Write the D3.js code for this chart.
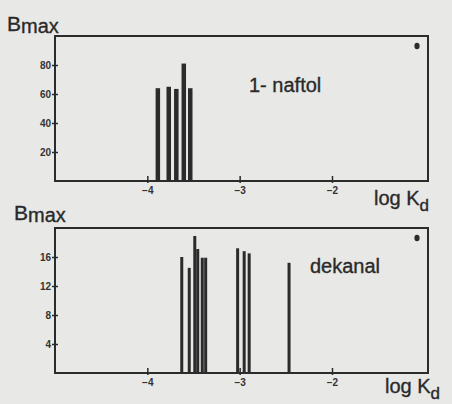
<!DOCTYPE html>
<html>
<head>
<meta charset="utf-8">
<script src="https://cdn.jsdelivr.net/npm/d3@7"></script>
<style>
  body { margin: 0; background: #e8e8e6; }
  svg { display: block; }
  .tick text { font-family: "Liberation Sans", Arial, sans-serif; font-weight: bold; font-size: 10px; fill: #333; }
  .lbl { font-family: "Liberation Sans", Arial, sans-serif; fill: #2a2a2a; stroke: #2a2a2a; stroke-width: 0.35; }
</style>
</head>
<body>
<div id="chart"></div>
<script>
// 1-naftol panel
const naftolLogK = [-3.886, -3.768, -3.686, -3.605, -3.535];
const naftolBmax = [64, 65, 63.5, 81, 64];
// dekanal panel
const dekanalLogK = [-3.627, -3.546, -3.486, -3.454, -3.405, -3.368, -3.022, -2.951, -2.897, -2.465];
const dekanalBmax = [16.0, 14.5, 18.9, 17.1, 15.9, 15.9, 17.2, 16.8, 16.5, 15.2];

const xTicks = [-4, -3, -2];
const naftolYTicks = [20, 40, 60, 80];
const dekanalYTicks = [4, 8, 12, 16];

const W = 452, H = 404;
const ink = "#2b2b2b";

const svg = d3.select("#chart").append("svg")
    .attr("width", W).attr("height", H);

const x = d3.scaleLinear().domain([-5, -0.96]).range([55, 428]);

function panel(top, bottom, yMax, xs, ys, yTicks, barW, name, nameX, nameY, ylabY, ylabX, logY) {
    const y = d3.scaleLinear().domain([0, yMax]).range([bottom, top]);
    const g = svg.append("g");

    // bars
    g.selectAll("rect.bar")
        .data(xs.map((v, i) => ({k: v, b: ys[i]})))
        .enter().append("rect")
        .attr("class", "bar")
        .attr("x", d => x(d.k) - barW / 2)
        .attr("y", d => y(d.b))
        .attr("width", barW)
        .attr("height", d => bottom - y(d.b))
        .attr("fill", ink);

    // frame
    g.append("rect")
        .attr("x", x.range()[0]).attr("y", top)
        .attr("width", x.range()[1] - x.range()[0])
        .attr("height", bottom - top)
        .attr("fill", "none").attr("stroke", ink).attr("stroke-width", 2);

    // axes
    const xa = g.append("g")
        .attr("transform", "translate(0," + bottom + ")")
        .call(d3.axisBottom(x).tickValues(xTicks).tickSize(0).tickPadding(6)
            .tickFormat(d => "\u2212" + Math.abs(d)));
    xa.select(".domain").remove();
    xa.selectAll(".tick").append("line")
        .attr("y1", -5).attr("y2", 2).attr("stroke", ink).attr("stroke-width", 1.5);

    const ya = g.append("g")
        .attr("transform", "translate(" + x.range()[0] + ",0)")
        .call(d3.axisLeft(y).tickValues(yTicks).tickSize(0).tickPadding(4));
    ya.select(".domain").remove();
    ya.selectAll(".tick").append("line")
        .attr("x1", -3).attr("x2", 3).attr("stroke", ink).attr("stroke-width", 1.5);

    // corner mark
    g.append("ellipse")
        .attr("cx", 417).attr("cy", top + 10)
        .attr("rx", 2.6).attr("ry", 3.2).attr("fill", ink);

    // panel name
    g.append("text").attr("class", "lbl")
        .attr("x", nameX).attr("y", nameY)
        .attr("font-size", 20).text(name);

    // y label Bmax
    const bl = g.append("text").attr("class", "lbl")
        .attr("x", ylabX).attr("y", ylabY).attr("font-size", 21);
    bl.append("tspan").text("B");
    bl.append("tspan").attr("dy", 2).attr("font-size", 20).text("max");

    // x label log Kd
    const xl = g.append("text").attr("class", "lbl")
        .attr("x", logY[0]).attr("y", logY[1]).attr("font-size", 20);
    xl.append("tspan").text("log K");
    xl.append("tspan").attr("dy", 6).attr("font-size", 17).text("d");
}

panel(36, 181, 100, naftolLogK, naftolBmax, naftolYTicks, 4.5,
      "1- naftol", 249, 92, 31, 7, [374, 205]);
panel(228, 373, 20, dekanalLogK, dekanalBmax, dekanalYTicks, 3,
      "dekanal", 310, 273, 220, 14, [385, 393]);
</script>
</body>
</html>
